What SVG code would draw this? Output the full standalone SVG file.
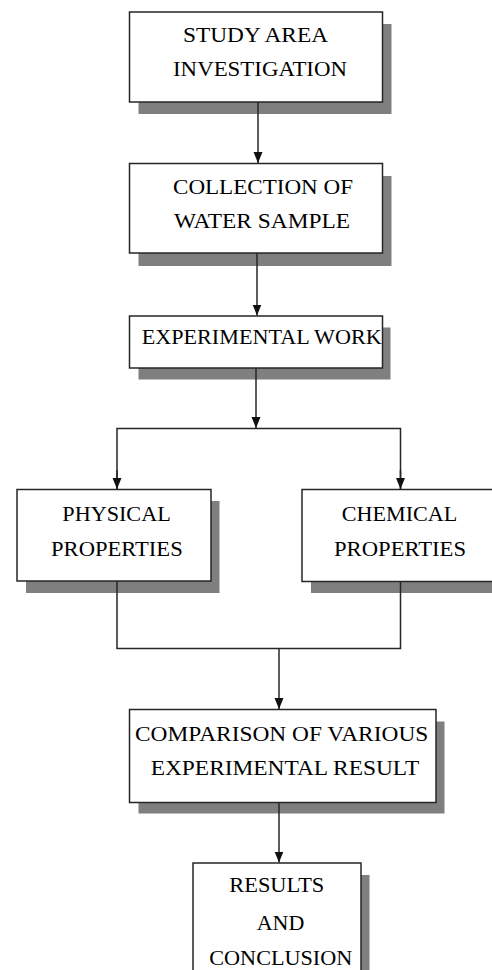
<svg xmlns="http://www.w3.org/2000/svg" width="492" height="970" viewBox="0 0 492 970">
<style>
.sh{fill:#7f7f7f}
.bx{fill:#fff;stroke:#262626;stroke-width:1.5}
.t{font-family:'Liberation Serif','DejaVu Serif',serif;font-size:22px;fill:#000}
.c{fill:none;stroke:#262626;stroke-width:1.5}
</style>
<defs>
<marker id="arr" markerUnits="userSpaceOnUse" markerWidth="11" markerHeight="10" refX="11" refY="5" orient="auto" viewBox="0 0 11 10">
<path d="M0,0.5 L11,5 L0,9.5 Z" fill="#111"/>
</marker>
</defs>
<g id="n1">
<rect class="sh" x="138.5" y="24" width="253" height="90"/>
<rect class="bx" x="129.5" y="12" width="253" height="90"/>
<text class="t" x="183" y="42" textLength="145" lengthAdjust="spacingAndGlyphs">STUDY AREA</text>
<text class="t" x="173" y="76" textLength="174" lengthAdjust="spacingAndGlyphs">INVESTIGATION</text>
</g>
<g id="n2">
<rect class="sh" x="138.5" y="176" width="253" height="90"/>
<rect class="bx" x="129.5" y="163.5" width="253" height="89.5"/>
<text class="t" x="173" y="194" textLength="180" lengthAdjust="spacingAndGlyphs">COLLECTION OF</text>
<text class="t" x="174" y="227.5" textLength="176" lengthAdjust="spacingAndGlyphs">WATER SAMPLE</text>
</g>
<g id="n3">
<rect class="sh" x="138.5" y="327.5" width="252" height="52"/>
<rect class="bx" x="129.5" y="316" width="253" height="52"/>
<text class="t" x="141.7" y="344.3" textLength="240" lengthAdjust="spacingAndGlyphs">EXPERIMENTAL WORK</text>
</g>
<g id="n4">
<rect class="sh" x="26" y="501" width="193.5" height="92"/>
<rect class="bx" x="17" y="489.5" width="194" height="91.5"/>
<text class="t" x="62.3" y="520.7" textLength="108.4" lengthAdjust="spacingAndGlyphs">PHYSICAL</text>
<text class="t" x="51" y="556" textLength="131.7" lengthAdjust="spacingAndGlyphs">PROPERTIES</text>
</g>
<g id="n5">
<rect class="sh" x="311" y="501" width="200" height="92"/>
<rect class="bx" x="302" y="489.5" width="200" height="92"/>
<text class="t" x="341.7" y="520.7" textLength="115.6" lengthAdjust="spacingAndGlyphs">CHEMICAL</text>
<text class="t" x="334" y="556" textLength="132" lengthAdjust="spacingAndGlyphs">PROPERTIES</text>
</g>
<g id="n6">
<rect class="sh" x="138.5" y="721.5" width="306" height="92"/>
<rect class="bx" x="129.5" y="709.5" width="306.5" height="93"/>
<text class="t" x="135" y="740.7" textLength="293.3" lengthAdjust="spacingAndGlyphs">COMPARISON OF VARIOUS</text>
<text class="t" x="150.7" y="775" textLength="268.6" lengthAdjust="spacingAndGlyphs">EXPERIMENTAL RESULT</text>
</g>
<g id="n7">
<rect class="sh" x="202" y="875" width="167.5" height="120"/>
<rect class="bx" x="193" y="863" width="168" height="120"/>
<text class="t" x="229.3" y="892.3" textLength="95" lengthAdjust="spacingAndGlyphs">RESULTS</text>
<text class="t" x="256.7" y="930" textLength="47.6" lengthAdjust="spacingAndGlyphs">AND</text>
<text class="t" x="209.3" y="965" textLength="143" lengthAdjust="spacingAndGlyphs">CONCLUSION</text>
</g>
<g id="connectors">
<line class="c" x1="258" y1="102" x2="258" y2="163" marker-end="url(#arr)"/>
<line class="c" x1="257" y1="253" x2="257" y2="315.5" marker-end="url(#arr)"/>
<line class="c" x1="256" y1="368" x2="256" y2="428" marker-end="url(#arr)"/>
<polyline class="c" points="117,489 117,428.5 400.5,428.5 400.5,489"/>
<line class="c" x1="117" y1="470" x2="117" y2="489" marker-end="url(#arr)"/>
<line class="c" x1="400.5" y1="470" x2="400.5" y2="489" marker-end="url(#arr)"/>
<polyline class="c" points="117,581 117,648.5 400.5,648.5 400.5,581.5"/>
<line class="c" x1="279" y1="648.5" x2="279" y2="709" marker-end="url(#arr)"/>
<line class="c" x1="279" y1="803" x2="279" y2="862.5" marker-end="url(#arr)"/>
</g>
</svg>
